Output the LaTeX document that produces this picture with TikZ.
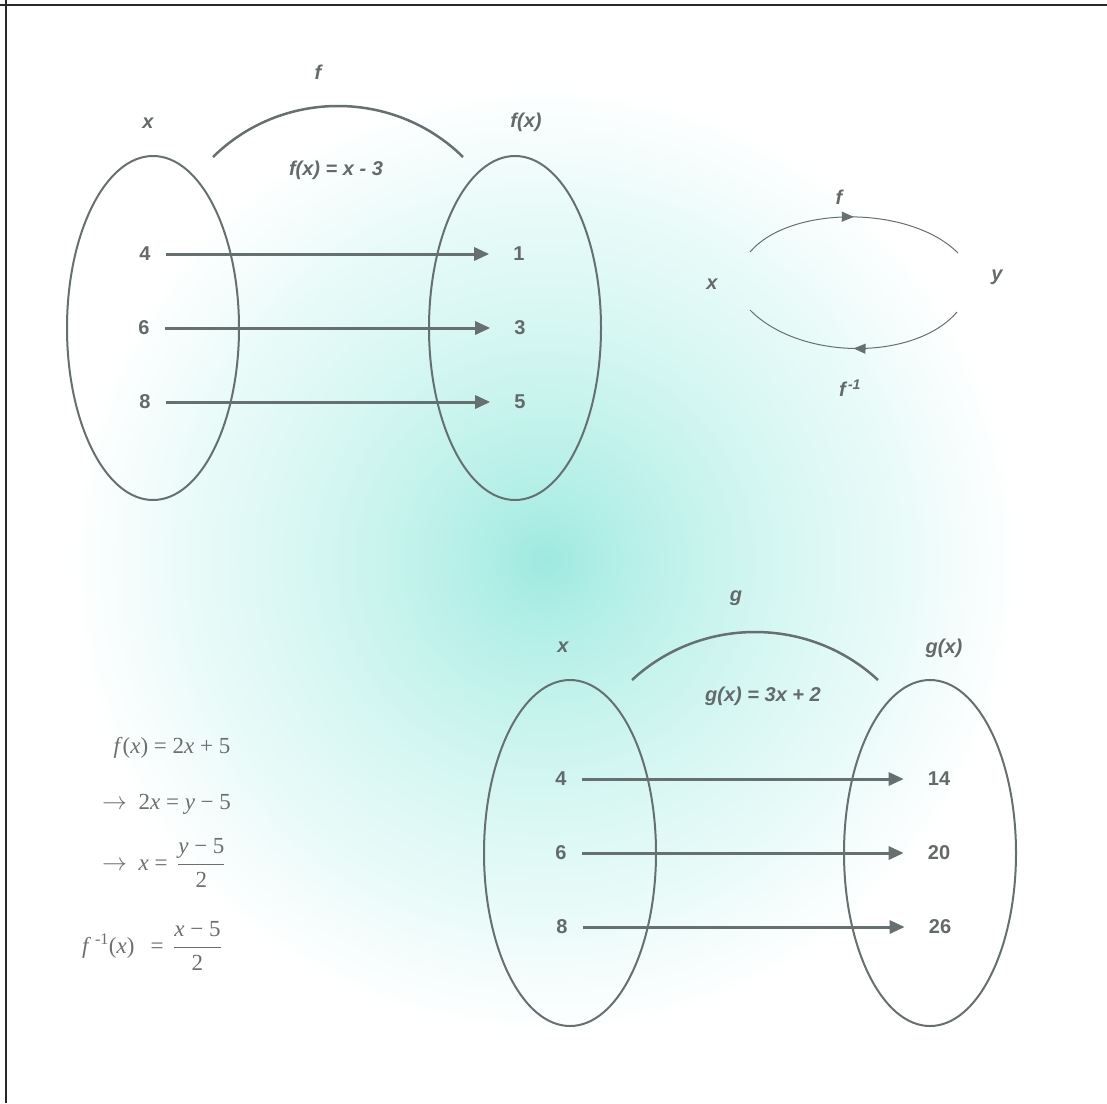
\documentclass[tikz,border=0pt]{standalone}
\usepackage{fontspec}
\setmainfont{Liberation Serif}
\newfontfamily\lsans{Liberation Sans}
\usetikzlibrary{arrows.meta,shapes.geometric,decorations.markings}
\definecolor{glowA}{RGB}{158,233,224}
\definecolor{glowB}{RGB}{175,238,230}
\definecolor{glowC}{RGB}{198,243,237}
\definecolor{glowD}{RGB}{216,247,243}
\definecolor{glowE}{RGB}{234,251,249}
\definecolor{linecol}{RGB}{102,112,112}
\definecolor{txtcol}{RGB}{100,106,106}
\definecolor{formcol}{RGB}{110,110,110}
\definecolor{bordercol}{RGB}{40,40,40}
\pgfdeclareradialshading{glow}{\pgfpoint{0bp}{0bp}}{color(0bp)=(glowA); color(3bp)=(glowB); color(8bp)=(glowC); color(13bp)=(glowD); color(19bp)=(glowE); color(25bp)=(white); color(50bp)=(white)}
\begin{document}
\begin{tikzpicture}[x=1pt,y=-1pt,
  setell/.style={draw=linecol, line width=2pt, ellipse, inner sep=0pt, minimum width=172pt, minimum height=344pt},
  lab/.style={font=\lsans\bfseries\itshape\fontsize{20}{23}\selectfont, text=txtcol, inner sep=0pt},
  num/.style={font=\lsans\bfseries\fontsize{20}{23}\selectfont, text=txtcol, inner sep=0pt},
  maparrow/.style={draw=linecol, line width=3pt, -{Triangle[length=15pt,width=13pt]}, shorten <=15pt, shorten >=24pt},
  fnarc/.style={draw=linecol, line width=2.5pt},
  cyc/.style={draw=linecol, line width=1pt, postaction={decorate}, decoration={markings, mark=at position 0.5 with {\arrow{Triangle[length=12pt,width=10pt]}}}},
  form/.style={font=\fontsize{23}{27}\selectfont, text=formcol, inner sep=0pt}
]
\useasboundingbox (0,0) rectangle (1107,1103);
\begin{scope}
  \clip (0,0) rectangle (1107,1103);
  \fill[white] (0,0) rectangle (1107,1103);
  \shade[shading=glow] (545,560) circle[radius=475];
\end{scope}
\draw[bordercol, line width=2.5pt] (0,5) -- (1107,5);
\draw[bordercol, line width=2.5pt] (6,0) -- (6,1103);

% ---- top-left mapping f ----
\node[setell] (fdom) at (153,328) {};
\node[setell] (fcod) at (515,328) {};
\node[lab] (fxl) at (148,123) {x};
\node[lab] (ffl) at (318,72) {f};
\node[lab] (fyl) at (526,122) {f(x)};
\node[lab] (frule) at (336,170) {f(x) = x - 3};
\coordinate (fa0) at (213,157);
\coordinate (fa1) at (463,157);
\draw[fnarc] (fa0) .. controls (282,89) and (394,89) .. (fa1);
\node[num] (fd4) at (145,254) {4};
\node[num] (fd6) at (144,328) {6};
\node[num] (fd8) at (145,402) {8};
\node[num] (fc1) at (519,254) {1};
\node[num] (fc3) at (520,328) {3};
\node[num] (fc5) at (520,402) {5};
\draw[maparrow] (fd4) -- (fc1);
\draw[maparrow] (fd6) -- (fc3);
\draw[maparrow] (fd8) -- (fc5);

% ---- inverse cycle ----
\node[lab] (cx) at (712,284) {x};
\node[lab] (cy) at (997,277) {y};
\node[lab] (cf) at (839,197) {f};
\node[lab] (cfi) at (850,388) {f\textsuperscript{\,-1}};
\coordinate (ct0) at (750,252);
\coordinate (ct1) at (958,253);
\coordinate (cb0) at (957,312);
\coordinate (cb1) at (750,310);
\draw[cyc] (ct0) .. controls (790,205) and (910,205) .. (ct1);
\draw[cyc] (cb0) .. controls (915,361) and (800,361) .. (cb1);

% ---- bottom-right mapping g ----
\node[setell, minimum height=346pt] (gdom) at (570,853) {};
\node[setell, minimum height=346pt] (gcod) at (930,853) {};
\node[lab] (gxl) at (563,647) {x};
\node[lab] (ggl) at (736,598) {g};
\node[lab] (gyl) at (944,648) {g(x)};
\node[lab] (grule) at (763,696) {g(x) = 3x + 2};
\coordinate (ga0) at (632,680);
\coordinate (ga1) at (878,680);
\draw[fnarc] (ga0) .. controls (701,616) and (809,616) .. (ga1);
\node[num] (gd4) at (561,779) {4};
\node[num] (gd6) at (561,853) {6};
\node[num] (gd8) at (562,927) {8};
\node[num] (gc14) at (939,779) {14};
\node[num] (gc20) at (939,853) {20};
\node[num] (gc26) at (940,927) {26};
\draw[maparrow] (gd4) -- (gc14);
\draw[maparrow] (gd6) -- (gc20);
\draw[maparrow] (gd8) -- (gc26);

% ---- worked inverse ----
\node[form] (e1) at (172,748) {\textit{f}(\textit{x}) = 2\textit{x} + 5};
\node[form, anchor=west] (e2) at (102,804) {$\rightarrow$\ \ 2\textit{x} = \textit{y} − 5};
\node[form, anchor=west] (e3) at (102,863) {$\rightarrow$\ \ \textit{x} = \,$\displaystyle\frac{\mbox{\textit{y} − 5}}{\mbox{2}}$};
\node[form, anchor=west] (e4) at (82,946) {\textit{f}\,\textsuperscript{-1}(\textit{x})\hspace{0.7em}= \,$\displaystyle\frac{\mbox{\textit{x} − 5}}{\mbox{2}}$};
\end{tikzpicture}
\end{document}
